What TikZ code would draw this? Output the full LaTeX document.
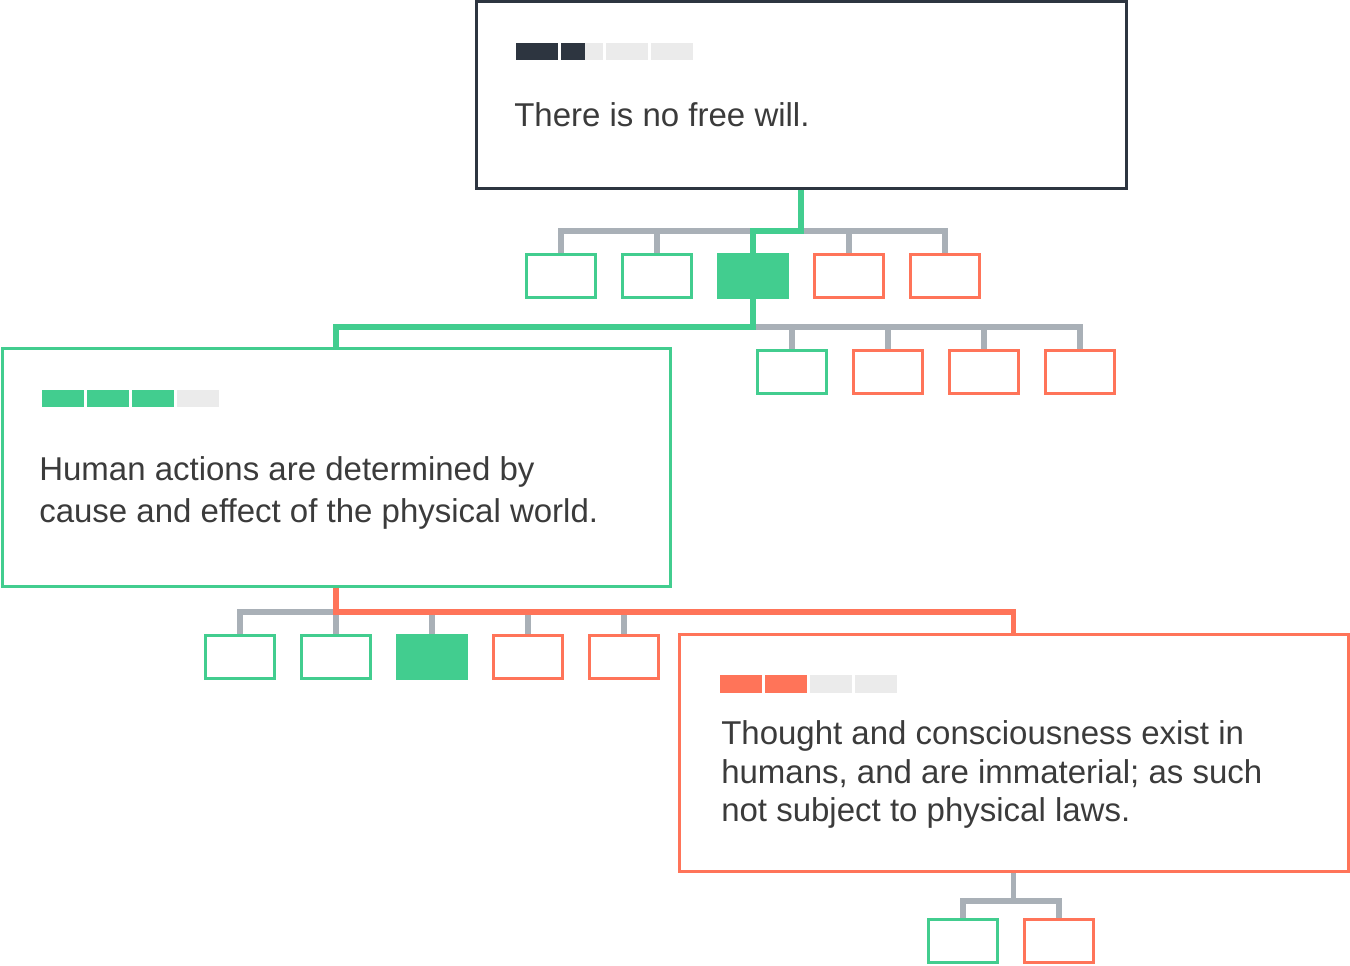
\documentclass[tikz,border=0pt]{standalone}
\usepackage{fontspec}
\setmainfont{Liberation Sans}
\usetikzlibrary{backgrounds}
\definecolor{dark}{HTML}{2D3540}
\definecolor{grn}{HTML}{42CD8F}
\definecolor{red}{HTML}{FF7459}
\definecolor{conn}{HTML}{A9B0B7}
\definecolor{lite}{HTML}{EBEBEB}
\definecolor{txt}{HTML}{3B3B3B}
\tikzset{
  bigbox/.style={draw, line width=3*0.75pt, fill=white, inner sep=0pt, minimum width=#1},
  gbox/.style={draw=grn, line width=3*0.75pt, fill=white, inner sep=0pt, minimum width=69*0.75pt, minimum height=43*0.75pt},
  gfill/.style={draw=grn, fill=grn, line width=3*0.75pt, inner sep=0pt, minimum width=69*0.75pt, minimum height=43*0.75pt},
  rbox/.style={draw=red, line width=3*0.75pt, fill=white, inner sep=0pt, minimum width=69*0.75pt, minimum height=43*0.75pt},
  txtline/.style={anchor=base west, inner sep=0pt, text=txt, font=\fontsize{24.75pt}{30pt}\selectfont},
  wire/.style={line width=5.5*0.75pt, line join=miter},
}
\begin{document}
\begin{tikzpicture}[x=0.75pt, y=-0.75pt]
\useasboundingbox (0,0) rectangle (1350,966);
% big boxes
\node[bigbox=650*0.75pt, draw=dark, minimum height=187*0.75pt] (top) at (801,95.5) {};
\node[bigbox=668*0.75pt, draw=grn, minimum height=237*0.75pt] (mid) at (336,467.5) {};
\node[bigbox=669*0.75pt, draw=red, minimum height=237*0.75pt] (bot) at (1013.5,752.5) {};
% texts
\node[txtline] (t1) at (514,127) {There is no free will.};
\node[txtline] (t2a) at (39,480) {Human actions are determined by};
\node[txtline] (t2b) at (39,522) {cause and effect of the physical world.};
\node[txtline] (t3a) at (721,744) {Thought and consciousness exist in};
\node[txtline] (t3b) at (721,783) {humans, and are immaterial; as such};
\node[txtline] (t3c) at (721,821) {not subject to physical laws.};
% bars
\fill[dark] (516,43) rectangle (558,60);
\fill[lite] (561,43) rectangle (603,60);
\fill[dark] (561,43) rectangle (585,60);
\fill[lite] (606,43) rectangle (648,60);
\fill[lite] (651,43) rectangle (693,60);
\fill[grn] (42,390) rectangle (84,407);
\fill[grn] (87,390) rectangle (129,407);
\fill[grn] (132,390) rectangle (174,407);
\fill[lite] (177,390) rectangle (219,407);
\fill[red] (720,675) rectangle (762,693);
\fill[red] (765,675) rectangle (807,693);
\fill[lite] (810,675) rectangle (852,693);
\fill[lite] (855,675) rectangle (897,693);
% small boxes
\node[gbox] (r1a) at (561,276) {};
\node[gbox] (r1b) at (657,276) {};
\node[gfill] (r1c) at (753,276) {};
\node[rbox] (r1d) at (849,276) {};
\node[rbox] (r1e) at (945,276) {};
\node[gbox] (r2a) at (792,372) {};
\node[rbox] (r2b) at (888,372) {};
\node[rbox] (r2c) at (984,372) {};
\node[rbox] (r2d) at (1080,372) {};
\node[gbox] (r3a) at (240,657) {};
\node[gbox] (r3b) at (336,657) {};
\node[gfill] (r3c) at (432,657) {};
\node[rbox] (r3d) at (528,657) {};
\node[rbox] (r3e) at (624,657) {};
\node[gbox] (r4a) at (963,941) {};
\node[rbox] (r4b) at (1059,941) {};
\coordinate (h1) at (0,231);
\coordinate (h2) at (0,327);
\coordinate (h3) at (0,612);
\coordinate (h4) at (0,901);
\begin{scope}[on background layer]
% gray connectors
\draw[wire, conn] (r1a.north) -- (r1a.north |- h1) -- (r1e.north |- h1) -- (r1e.north);
\draw[wire, conn] (r1b.north) -- (r1b.north |- h1);
\draw[wire, conn] (r1d.north) -- (r1d.north |- h1);
\draw[wire, conn] (r1c.south |- h2) -- (r2d.north |- h2) -- (r2d.north);
\draw[wire, conn] (r2a.north) -- (r2a.north |- h2);
\draw[wire, conn] (r2b.north) -- (r2b.north |- h2);
\draw[wire, conn] (r2c.north) -- (r2c.north |- h2);
\draw[wire, conn] (r3a.north) -- (r3a.north |- h3) -- (r3e.north |- h3) -- (r3e.north);
\draw[wire, conn] (r3b.north) -- (r3b.north |- h3);
\draw[wire, conn] (r3c.north) -- (r3c.north |- h3);
\draw[wire, conn] (r3d.north) -- (r3d.north |- h3);
\draw[wire, conn] (bot.south) -- (bot.south |- h4);
\draw[wire, conn] (r4a.north) -- (r4a.north |- h4) -- (r4b.north |- h4) -- (r4b.north);
% highlighted paths
\draw[wire, grn] (top.south) -- (top.south |- h1) -- (r1c.north |- h1) -- (r1c.north);
\draw[wire, grn] (r1c.south) -- (r1c.south |- h2) -- (mid.north |- h2) -- (mid.north);
\draw[wire, red] (mid.south) -- (mid.south |- h3) -- (bot.north |- h3) -- (bot.north);
\end{scope}
\end{tikzpicture}
\end{document}
